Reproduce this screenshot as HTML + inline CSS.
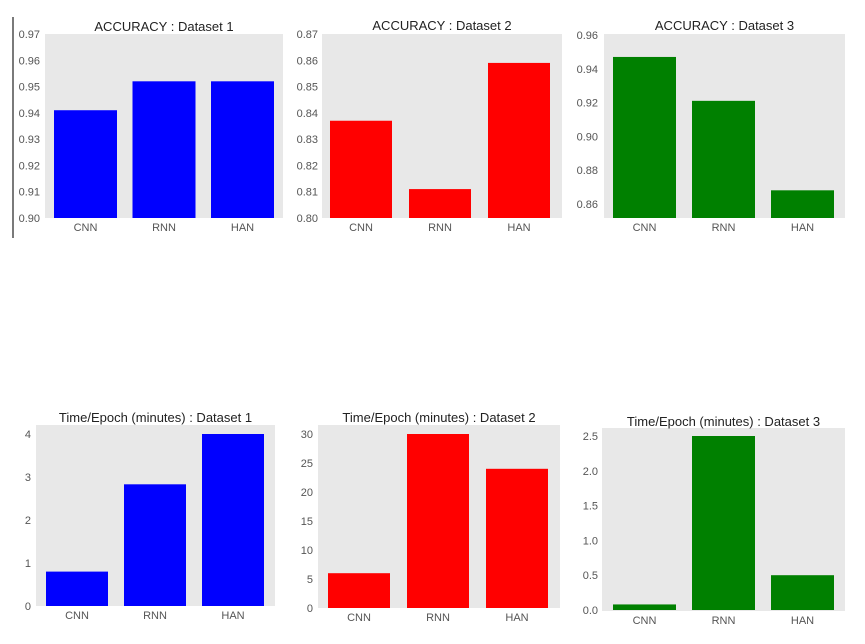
<!DOCTYPE html>
<html><head><meta charset="utf-8"><style>
body{margin:0;background:#fff;}
svg text{font-family:"Liberation Sans",sans-serif;}
</style></head><body>
<svg id="c" width="865" height="639" xmlns="http://www.w3.org/2000/svg">
<line x1="13" y1="17" x2="13" y2="238" stroke="#222" stroke-width="1.2"/>
</svg>
<script>
const categories=["CNN","RNN","HAN"];
const acc1=[0.941,0.952,0.952];
const acc2=[0.837,0.811,0.859];
const acc3=[0.947,0.921,0.868];
const time1=[0.8,2.83,4.0];
const time2=[6,30,24];
const time3=[0.08,2.5,0.5];
const ticks1=[0.90,0.91,0.92,0.93,0.94,0.95,0.96,0.97];
const ticks2=[0.80,0.81,0.82,0.83,0.84,0.85,0.86,0.87];
const ticks3=[0.86,0.88,0.90,0.92,0.94,0.96];
const ticks4=[0,1,2,3,4];
const ticks5=[0,5,10,15,20,25,30];
const ticks6=[0.0,0.5,1.0,1.5,2.0,2.5];
const titles=["ACCURACY : Dataset 1","ACCURACY : Dataset 2","ACCURACY : Dataset 3","Time/Epoch (minutes) : Dataset 1","Time/Epoch (minutes) : Dataset 2","Time/Epoch (minutes) : Dataset 3"];
const svg=document.getElementById('c');
const NS="http://www.w3.org/2000/svg";
function mk(tag,attrs){const e=document.createElementNS(NS,tag);for(const k in attrs)e.setAttribute(k,attrs[k]);svg.appendChild(e);return e;}
const panels=[
 {bg:[45,34,283,218],vmin:0.90,vmax:0.97,y0:218,y1:34,bx:54,bw:63,step:78.5,lx:40,ticks:ticks1,dec:2,vals:acc1,color:"#0000ff",ty:31,cap:"accuracy-dataset-1"},
 {bg:[322,34,562,218],vmin:0.80,vmax:0.87,y0:218,y1:34,bx:330,bw:62,step:79,lx:318,ticks:ticks2,dec:2,vals:acc2,color:"#ff0000",ty:30,cap:"accuracy-dataset-2"},
 {bg:[604,34,845,218],vmin:0.8516,vmax:0.96,y0:218,y1:35,bx:613,bw:63,step:79,lx:598,ticks:ticks3,dec:2,vals:acc3,color:"#008000",ty:30,cap:"accuracy-dataset-3"},
 {bg:[36,425,275,606],vmin:0,vmax:4,y0:606,y1:434,bx:46,bw:62,step:78,lx:31,ticks:ticks4,dec:0,vals:time1,color:"#0000ff",ty:422,cap:"time-dataset-1"},
 {bg:[318,425,560,608],vmin:0,vmax:30,y0:608,y1:434,bx:328,bw:62,step:79,lx:313,ticks:ticks5,dec:0,vals:time2,color:"#ff0000",ty:422,cap:"time-dataset-2"},
 {bg:[602,428,845,611],vmin:0,vmax:2.5,y0:610,y1:436,bx:613,bw:63,step:79,lx:598,ticks:ticks6,dec:1,vals:time3,color:"#008000",ty:426,cap:"time-dataset-3"}
];
panels.forEach((p,i)=>{
 const ys=v=>p.y0+(v-p.vmin)/(p.vmax-p.vmin)*(p.y1-p.y0);
 const xs=j=>p.bx+j*p.step;
 const bg=mk('rect',{x:p.bg[0],y:p.bg[1],width:p.bg[2]-p.bg[0],height:p.bg[3]-p.bg[1],fill:"#e8e8e8"});
 
 
 const t=mk('text',{x:(p.bg[0]+p.bg[2])/2,y:p.ty,'text-anchor':'middle','font-size':13,fill:'#222'});
 t.textContent=titles[i];
 
 
 p.ticks.forEach(v=>{
  const tl=mk('text',{x:p.lx,y:ys(v)+4,'text-anchor':'end','font-size':11,fill:'#555'});
  tl.textContent=v.toFixed(p.dec);
  
  
 });
 p.vals.forEach((v,j)=>{
  const top=ys(v);
  const b=mk('rect',{x:xs(j),y:top,width:p.bw,height:p.y0-top,fill:p.color});
  
  
  const cl=mk('text',{x:xs(j)+p.bw/2,y:p.bg[3]+13,'text-anchor':'middle','font-size':11,fill:'#555'});
  cl.textContent=categories[j];
  
  
 });
});
</script>
</body></html>
